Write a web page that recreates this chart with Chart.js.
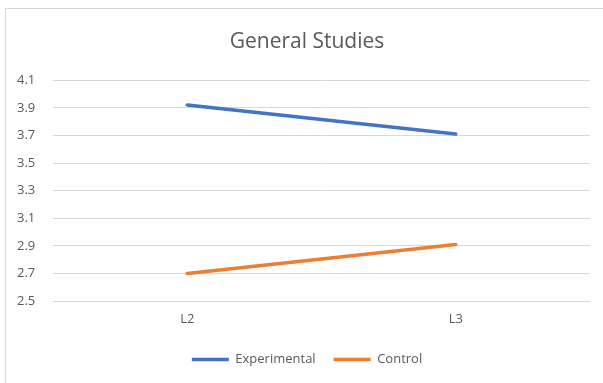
<!DOCTYPE html>
<html>
<head>
<meta charset="utf-8">
<script src="https://cdn.jsdelivr.net/npm/chart.js@4/dist/chart.umd.min.js"></script>
<style>
  html, body { margin: 0; padding: 0; background: #ffffff; overflow: hidden; }
  #frame {
    position: absolute; left: 5px; top: 8px; width: 640px; height: 420px;
    border: 1px solid #d9d9d9; box-sizing: border-box;
  }
  #wrap { position: absolute; left: 0; top: 0; width: 603px; height: 383px; }
</style>
</head>
<body>
<div id="frame"></div>
<div id="wrap"><canvas id="chart" width="603" height="383"></canvas></div>
<script>
// Mean scores by level
const levels = ['L2', 'L3'];
const experimental = [3.92, 3.71];
const control = [2.7, 2.91];
const yTicks = [2.5, 2.7, 2.9, 3.1, 3.3, 3.5, 3.7, 3.9, 4.1];

const textColor = '#595959';
const gridColor = '#d9d9d9';
const fontFamily = "'Open Sans', 'DejaVu Sans', sans-serif";

new Chart(document.getElementById('chart'), {
  type: 'line',
  data: {
    labels: levels,
    datasets: [
      {
        label: 'Experimental',
        data: experimental,
        borderColor: '#4472C4',
        backgroundColor: '#4472C4',
        borderWidth: 3.5,
        borderCapStyle: 'round',
        pointRadius: 0,
        pointHoverRadius: 0,
        tension: 0
      },
      {
        label: 'Control',
        data: control,
        borderColor: '#ED7D31',
        backgroundColor: '#ED7D31',
        borderWidth: 3.5,
        borderCapStyle: 'round',
        pointRadius: 0,
        pointHoverRadius: 0,
        tension: 0
      }
    ]
  },
  options: {
    responsive: false,
    animation: false,
    devicePixelRatio: 1,
    layout: { padding: { left: 24, right: 13, top: 0, bottom: 7 } },
    plugins: {
      tooltip: { enabled: false },
      title: {
        display: true,
        text: 'General Studies',
        color: textColor,
        font: { family: fontFamily, size: 21, weight: 'normal' },
        padding: { top: 29, bottom: 26 }
      },
      legend: {
        position: 'bottom',
        labels: {
          color: textColor,
          font: { family: fontFamily, size: 13 },
          usePointStyle: true,
          pointStyle: 'line',
          pointStyleWidth: 37,
          boxHeight: 13,
          padding: 18
        }
      }
    },
    scales: {
      x: {
        offset: true,
        afterFit: (scale) => { scale.height = 34; },
        grid: { display: false, drawTicks: false },
        border: { display: false },
        ticks: { color: textColor, font: { family: fontFamily, size: 13 }, padding: 10 }
      },
      y: {
        min: 2.5,
        max: 4.1,
        afterFit: (scale) => { scale.width = 29; },
        afterBuildTicks: (scale) => { scale.ticks = yTicks.map(v => ({ value: v })); },
        grid: { color: gridColor, lineWidth: 1, drawTicks: false },
        border: { display: false },
        ticks: {
          // labels sit left of the plot; mirror with a negative offset keeps them unclipped
          mirror: true,
          color: textColor,
          font: { family: fontFamily, size: 13 },
          padding: -36,
          callback: (v) => Number(v).toFixed(1)
        }
      }
    }
  }
});
</script>
</body>
</html>
